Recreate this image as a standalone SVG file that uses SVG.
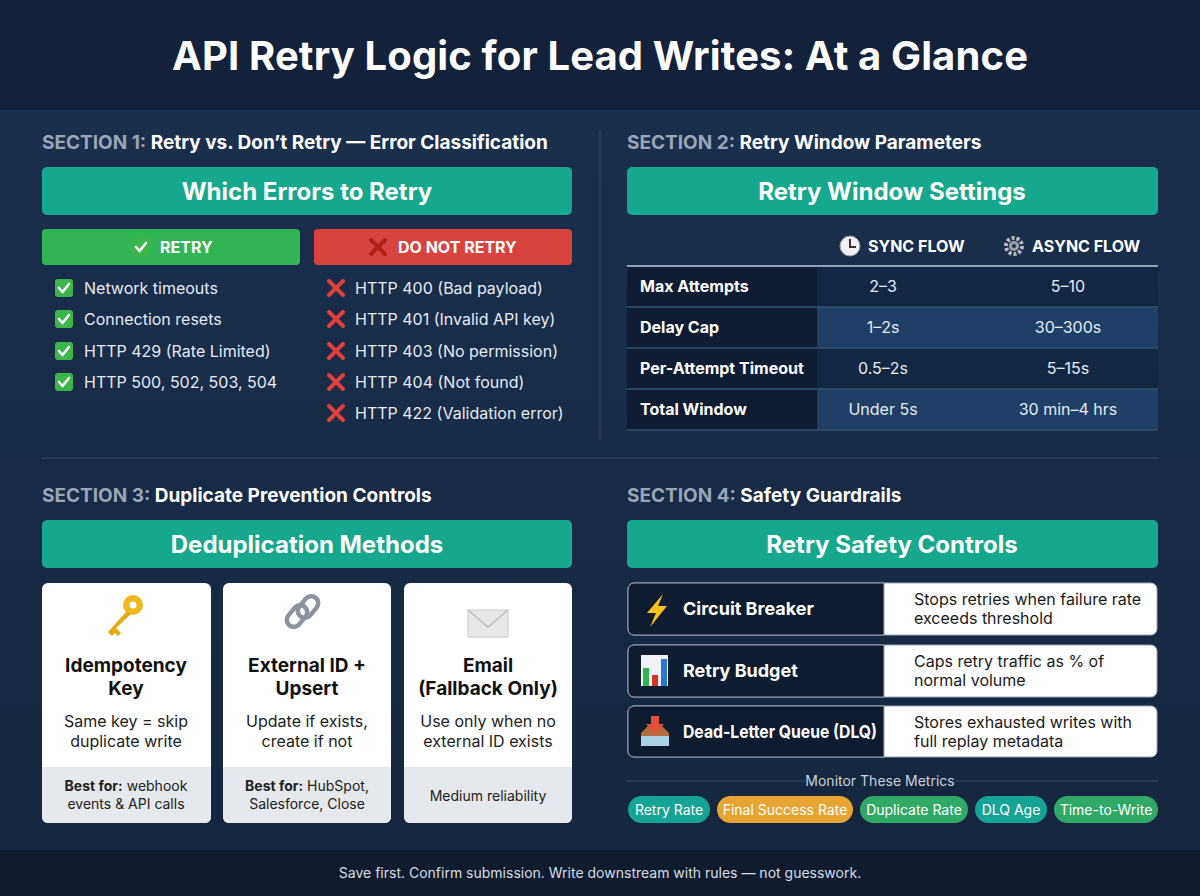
<svg xmlns="http://www.w3.org/2000/svg" width="1200" height="896" viewBox="0 0 1200 896">
<defs>
<linearGradient id="bg" x1="0" y1="0" x2="0" y2="1"><stop offset="0" stop-color="#1c3150"/><stop offset="1" stop-color="#15253d"/></linearGradient>
<g id="chk"><rect x="-9" y="-9" width="18" height="18" rx="3" fill="#3cb54a"/><path d="M-5 0 L-1.5 4 L5 -4" fill="none" stroke="#fff" stroke-width="2.6" stroke-linecap="round" stroke-linejoin="round"/></g>
<g id="xx"><path d="M-7 -7 L7 7 M7 -7 L-7 7" stroke="#e0403a" stroke-width="4" stroke-linecap="round"/></g>
</defs>
<style>
text{font-family:Inter,"Liberation Sans",sans-serif}
.t{fill:#fff;font-weight:700}
.sec{font-size:19px;font-weight:700;fill:#fff}
.sg{fill:#9aa6b6}
.ban{fill:#16a88d}
.bt{font-size:24px;font-weight:700;fill:#fff;text-anchor:middle}
.it{font-size:16px;fill:#e6ebf2}
.th{font-size:16px;font-weight:700;fill:#fff}
.tv{font-size:16px;fill:#e6ebf2;text-anchor:middle}
.ct{font-size:19px;font-weight:700;fill:#111;text-anchor:middle}
.cd{font-size:16px;fill:#222;text-anchor:middle}
.cb{font-size:14px;fill:#222;text-anchor:middle}
.st{font-size:18px;font-weight:700;fill:#fff}
.sd{font-size:16px;fill:#1a1a1a}
.pill{font-size:14px;fill:#fff;text-anchor:middle}
</style>
<rect width="1200" height="896" fill="url(#bg)"/>
<rect width="1200" height="110" fill="#13213a"/>
<text x="600" y="70" font-size="40" class="t" text-anchor="middle" textLength="856">API Retry Logic for Lead Writes: At a Glance</text>
<g id="dividers" stroke="#3a4d68" stroke-width="1">
<line x1="600" y1="130" x2="600" y2="440"/><line x1="42" y1="458" x2="1158" y2="458"/>
</g>
<g id="section1">
<text x="42" y="149" class="sec"><tspan class="sg">SECTION 1:</tspan> Retry vs. Don’t Retry — Error Classification</text>
<rect x="42" y="167" width="530" height="48" rx="5" class="ban"/>
<text x="307" y="200" class="bt">Which Errors to Retry</text>
<rect x="42" y="229" width="258" height="36" rx="4" fill="#30b454"/>
<use href="#chk" x="141" y="247"/>
<text x="160" y="253" font-size="16" class="t">RETRY</text>
<rect x="314" y="229" width="258" height="36" rx="4" fill="#d8433e"/>
<path d="M371 240 L385 254 M385 240 L371 254" stroke="#b0201a" stroke-width="4" stroke-linecap="round"/>
<text x="398" y="253" font-size="16" class="t">DO NOT RETRY</text>
<use href="#chk" x="64" y="288"/><text x="84" y="294" class="it">Network timeouts</text>
<use href="#chk" x="64" y="319"/><text x="84" y="325" class="it">Connection resets</text>
<use href="#chk" x="64" y="351"/><text x="84" y="357" class="it">HTTP 429 (Rate Limited)</text>
<use href="#chk" x="64" y="382"/><text x="84" y="388" class="it">HTTP 500, 502, 503, 504</text>
<use href="#xx" x="336" y="288"/><text x="355" y="294" class="it">HTTP 400 (Bad payload)</text>
<use href="#xx" x="336" y="319"/><text x="355" y="325" class="it">HTTP 401 (Invalid API key)</text>
<use href="#xx" x="336" y="351"/><text x="355" y="357" class="it">HTTP 403 (No permission)</text>
<use href="#xx" x="336" y="382"/><text x="355" y="388" class="it">HTTP 404 (Not found)</text>
<use href="#xx" x="336" y="413"/><text x="355" y="419" class="it">HTTP 422 (Validation error)</text>
</g>
<g id="section2">
<text x="627" y="149" class="sec"><tspan class="sg">SECTION 2:</tspan> Retry Window Parameters</text>
<rect x="627" y="167" width="531" height="48" rx="5" class="ban"/>
<text x="892" y="200" class="bt">Retry Window Settings</text>
<circle cx="850" cy="246" r="10" fill="#eef0f3" stroke="#999"/><path d="M850 239 V247 H856" stroke="#333" stroke-width="2" fill="none"/>
<text x="868" y="252" class="th">SYNC FLOW</text>
<circle cx="1014" cy="246" r="8" fill="none" stroke="#b8bcc2" stroke-width="4" stroke-dasharray="3 2"/><circle cx="1014" cy="246" r="5" fill="#9aa0a8"/><circle cx="1014" cy="246" r="2" fill="#1c3150"/>
<text x="1032" y="252" class="th">ASYNC FLOW</text>
<rect x="627" y="266" width="190" height="164" fill="#0f1c31"/>
<rect x="817" y="266" width="341" height="41" fill="#142742"/>
<rect x="817" y="307" width="341" height="41" fill="#1f3f66"/>
<rect x="817" y="348" width="341" height="41" fill="#142742"/>
<rect x="817" y="389" width="341" height="41" fill="#1f3f66"/>
<g stroke="#34506f" stroke-width="1.5"><line x1="627" y1="307" x2="1158" y2="307"/><line x1="627" y1="348" x2="1158" y2="348"/><line x1="627" y1="389" x2="1158" y2="389"/><line x1="627" y1="430" x2="1158" y2="430"/></g>
<line x1="627" y1="266" x2="1158" y2="266" stroke="#8fa2b8" stroke-width="2"/>
<text x="640" y="292" class="th">Max Attempts</text><text x="883" y="292" class="tv">2–3</text><text x="1068" y="292" class="tv">5–10</text>
<text x="640" y="333" class="th">Delay Cap</text><text x="883" y="333" class="tv">1–2s</text><text x="1068" y="333" class="tv">30–300s</text>
<text x="640" y="374" class="th">Per-Attempt Timeout</text><text x="883" y="374" class="tv">0.5–2s</text><text x="1068" y="374" class="tv">5–15s</text>
<text x="640" y="415" class="th">Total Window</text><text x="883" y="415" class="tv">Under 5s</text><text x="1068" y="415" class="tv">30 min–4 hrs</text>
</g>
<g id="section3">
<text x="42" y="502" class="sec"><tspan class="sg">SECTION 3:</tspan> Duplicate Prevention Controls</text>
<rect x="42" y="520" width="530" height="48" rx="5" class="ban"/>
<text x="307" y="553" class="bt">Deduplication Methods</text>
<g id="card1">
<rect x="42" y="583" width="169" height="240" rx="6" fill="#fff"/>
<path d="M42 767 H211 V817 a6 6 0 0 1 -6 6 H48 a6 6 0 0 1 -6 -6 Z" fill="#e5e8ec"/>
<circle cx="133" cy="605" r="10" fill="#f0b81c"/><circle cx="133" cy="605" r="3.5" fill="#fff"/>
<path d="M126 612 L108 632 L112 636 L115 633 L118 636 L121 633 L116 628 L131 614 Z" fill="#e4a812"/>
<text x="126" y="672" class="ct">Idempotency</text><text x="126" y="695" class="ct">Key</text>
<text x="126" y="727" class="cd">Same key = skip</text><text x="126" y="747" class="cd">duplicate write</text>
<text x="126" y="791" class="cb"><tspan font-weight="700">Best for:</tspan> webhook</text><text x="126" y="809" class="cb">events &amp; API calls</text>
</g>
<g id="card2">
<rect x="223" y="583" width="168" height="240" rx="6" fill="#fff"/>
<path d="M223 767 H391 V817 a6 6 0 0 1 -6 6 H229 a6 6 0 0 1 -6 -6 Z" fill="#e5e8ec"/>
<g fill="none" stroke="#8a939e" stroke-width="4.5"><rect x="290" y="604" width="14" height="24" rx="7" transform="rotate(40 297 616)"/><rect x="301" y="595" width="14" height="24" rx="7" transform="rotate(40 308 607)"/></g>
<text x="307" y="672" class="ct">External ID +</text><text x="307" y="695" class="ct">Upsert</text>
<text x="307" y="727" class="cd">Update if exists,</text><text x="307" y="747" class="cd">create if not</text>
<text x="307" y="791" class="cb"><tspan font-weight="700">Best for:</tspan> HubSpot,</text><text x="307" y="809" class="cb">Salesforce, Close</text>
</g>
<g id="card3">
<rect x="404" y="583" width="168" height="240" rx="6" fill="#fff"/>
<path d="M404 767 H572 V817 a6 6 0 0 1 -6 6 H410 a6 6 0 0 1 -6 -6 Z" fill="#e5e8ec"/>
<rect x="468" y="610" width="40" height="27" fill="#e8e8e8" stroke="#c8c8c8"/><path d="M468 610 L488 627 L508 610" fill="none" stroke="#bdbdbd" stroke-width="1.5"/>
<text x="488" y="672" class="ct">Email</text><text x="488" y="695" class="ct">(Fallback Only)</text>
<text x="488" y="727" class="cd">Use only when no</text><text x="488" y="747" class="cd">external ID exists</text>
<text x="488" y="801" class="cb">Medium reliability</text>
</g>
</g>
<g id="section4">
<text x="627" y="502" class="sec"><tspan class="sg">SECTION 4:</tspan> Safety Guardrails</text>
<rect x="627" y="520" width="531" height="48" rx="5" class="ban"/>
<text x="892" y="553" class="bt">Retry Safety Controls</text>
<g id="cb">
<rect x="628" y="583" width="529" height="52" rx="6" fill="#fff" stroke="#9aa6b6"/>
<path d="M634 583 H884 V635 H634 a6 6 0 0 1 -6 -6 V589 a6 6 0 0 1 6 -6 Z" fill="#0f1b2e" stroke="#9aa6b6"/>
<path d="M663 594 L647 613 H656 L650 627 L667 606 H658 Z" fill="#f5c518"/>
<text x="683" y="615" class="st">Circuit Breaker</text>
<text x="914" y="605" class="sd">Stops retries when failure rate</text><text x="914" y="624" class="sd">exceeds threshold</text>
</g>
<g id="rb">
<rect x="628" y="645" width="529" height="52" rx="6" fill="#fff" stroke="#9aa6b6"/>
<path d="M634 645 H884 V697 H634 a6 6 0 0 1 -6 -6 V651 a6 6 0 0 1 6 -6 Z" fill="#0f1b2e" stroke="#9aa6b6"/>
<rect x="641" y="655" width="27" height="31" fill="#eef1f5"/><rect x="643" y="668" width="6" height="18" fill="#2fb34a"/><rect x="652" y="675" width="6" height="11" fill="#d8322e"/><rect x="661" y="659" width="6" height="27" fill="#2a78d4"/>
<text x="683" y="677" class="st">Retry Budget</text>
<text x="914" y="667" class="sd">Caps retry traffic as % of</text><text x="914" y="686" class="sd">normal volume</text>
</g>
<g id="dlq">
<rect x="628" y="706" width="529" height="51" rx="6" fill="#fff" stroke="#9aa6b6"/>
<path d="M634 706 H884 V757 H634 a6 6 0 0 1 -6 -6 V712 a6 6 0 0 1 6 -6 Z" fill="#0f1b2e" stroke="#9aa6b6"/>
<path d="M641 733 L649 725 H661 L669 733 V746 H641 Z" fill="#b56a40"/><rect x="641" y="736" width="28" height="10" fill="#a9d3e0"/><path d="M651 716 H659 V724 H664 L655 733 L646 724 H651 Z" fill="#e0503a"/>
<text x="683" y="738" class="st" textLength="194" lengthAdjust="spacingAndGlyphs">Dead-Letter Queue (DLQ)</text>
<text x="914" y="728" class="sd">Stores exhausted writes with</text><text x="914" y="747" class="sd">full replay metadata</text>
</g>
<g stroke="#3a4d68"><line x1="627" y1="781" x2="805" y2="781"/><line x1="955" y1="781" x2="1158" y2="781"/></g>
<text x="880" y="786" font-size="14" fill="#c9d1dc" text-anchor="middle">Monitor These Metrics</text>
<rect x="628" y="796" width="82" height="27" rx="13.5" fill="#15a394"/><text x="669" y="815" class="pill">Retry Rate</text>
<rect x="717" y="796" width="136" height="27" rx="13.5" fill="#e6a532"/><text x="785" y="815" class="pill">Final Success Rate</text>
<rect x="860" y="796" width="108" height="27" rx="13.5" fill="#2fa868"/><text x="914" y="815" class="pill">Duplicate Rate</text>
<rect x="975" y="796" width="72" height="27" rx="13.5" fill="#15a394"/><text x="1011" y="815" class="pill">DLQ Age</text>
<rect x="1054" y="796" width="104" height="27" rx="13.5" fill="#2fa868"/><text x="1106" y="815" class="pill">Time-to-Write</text>
</g>
<rect x="0" y="850" width="1200" height="46" fill="#101c2e"/>
<text x="600" y="878" font-size="14" fill="#d6dce4" text-anchor="middle">Save first. Confirm submission. Write downstream with rules — not guesswork.</text>
</svg>
